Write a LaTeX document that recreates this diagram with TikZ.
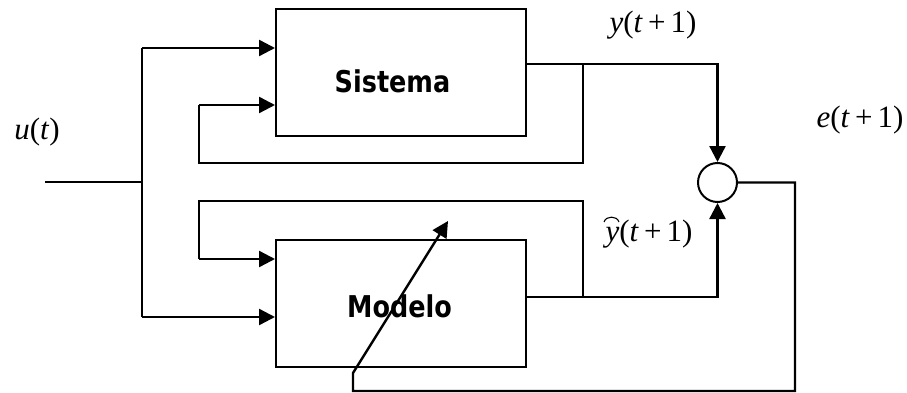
\documentclass[tikz,border=0pt]{standalone}
\usepackage{fontspec}
\setmainfont{Liberation Serif}
\newfontfamily\boxfont{DejaVu Sans}
\usetikzlibrary{arrows.meta}
\begin{document}
\begin{tikzpicture}[x=1pt,y=-1pt,
  blockbox/.style={draw, line width=2pt, minimum width=250pt, minimum height=127pt, inner sep=0pt},
  conn/.style={line width=2.4pt, line join=miter},
  arr/.style={conn, -{Triangle[length=16pt,width=16pt]}},
  blocktext/.style={font=\boxfont\bfseries\fontsize{30}{32}\selectfont},
  sig/.style={inner sep=0pt, font=\fontsize{31}{33}\selectfont},
  sumnode/.style={draw, circle, line width=2pt, minimum size=39pt, inner sep=0pt}]
\useasboundingbox (0,0) rectangle (907,393);
\fill[white] (0,0) rectangle (907,393);
% blocks
\node[blockbox] (sis) at (401,72.5) {};
\node[blocktext] (sistxt) at (392.5,81) {\scalebox{0.85}[1]{Sistema}};
\node[blockbox] (mod) at (401,303) {};
\node[blocktext] (modtxt) at (399.5,306) {\scalebox{0.85}[1]{Modelo}};
\node[sumnode] (sum) at (717.5,182.5) {};
% labels
\node[sig] (ut) at (37,132) {\textit{u}(\textit{t})};
\node[sig] (yt) at (653,25) {\textit{y}(\textit{t}\,+\,1)};
\node[sig] (et) at (860,120) {\textit{e}(\textit{t}\,+\,1)};
\node[sig] (yh) at (649,234) {\textit{y}(\textit{t}\,+\,1)};
\draw[line width=1.1pt] (604,222) .. controls (606,215.5) and (617,215.5) .. (619,222);
% coordinates
\coordinate (in) at (45,182);
\coordinate (j) at (142,182);
\coordinate (ja) at (142,48);
\coordinate (jb) at (142,317);
\coordinate (so) at (526,64);
\coordinate (sf) at (583,64);
\coordinate (sfb) at (583,163);
\coordinate (sfl) at (199,163);
\coordinate (sfa) at (199,105);
\coordinate (mo) at (526,297);
\coordinate (mf) at (583,297);
\coordinate (mft) at (583,201);
\coordinate (mfl) at (199,201);
\coordinate (mfa) at (199,259);
\coordinate (er) at (795,182.5);
\coordinate (erb) at (795,391);
\coordinate (erl) at (353,391);
\coordinate (ers) at (353,373);
\coordinate (tip) at (448,221);
% input
\draw[line width=1.6pt] (in) -- (j);
\draw[conn] (ja) -- (jb);
\draw[arr] (ja) -- (ja -| sis.west);
\draw[arr] (jb) -- (jb -| mod.west);
% sistema output & feedback
\draw[arr] (so) -- (so -| sum.north) -- (sum.north);
\draw[conn] (sf) -- (sfb) -- (sfl) -- (sfa);
\draw[arr] (sfa) -- (sfa -| sis.west);
% modelo output & feedback
\draw[arr] (mo) -- (mo -| sum.south) -- (sum.south);
\draw[conn] (mf) -- (mft) -- (mfl) -- (mfa);
\draw[arr] (mfa) -- (mfa -| mod.west);
% error
\draw[arr] (sum.east) -- (er) -- (erb) -- (erl) -- (ers) -- (tip);
\end{tikzpicture}
\end{document}
